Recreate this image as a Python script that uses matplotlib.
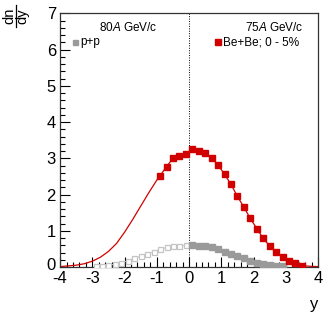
import matplotlib
matplotlib.use("Agg")
import matplotlib.pyplot as plt
from matplotlib.ticker import MultipleLocator
from matplotlib.lines import Line2D
import matplotlib.transforms as mtransforms

plt.rcParams['font.family'] = ['Liberation Sans', 'DejaVu Sans']
plt.rcParams['mathtext.fontset'] = 'custom'
plt.rcParams['mathtext.rm'] = 'Liberation Sans'
plt.rcParams['mathtext.it'] = 'Liberation Sans:italic'

# Be+Be 0-5% data (rapidity, dn/dy)
bebe_y = [-0.9, -0.7, -0.5, -0.3, -0.1, 0.1, 0.3, 0.5, 0.7, 0.9, 1.1, 1.3, 1.5,
          1.7, 1.9, 2.1, 2.3, 2.5, 2.7, 2.9, 3.1, 3.3, 3.5]
bebe_v = [2.52, 2.77, 3.00, 3.07, 3.12, 3.26, 3.19, 3.14, 3.01, 2.81, 2.56, 2.28, 1.95,
          1.65, 1.34, 1.06, 0.79, 0.58, 0.41, 0.28, 0.17, 0.11, 0.04]

# Fit curve (left extension + through the points + tail)
curve_y = [-4.0, -3.75, -3.5, -3.25, -3.0, -2.75, -2.5, -2.25, -2.0, -1.75, -1.5,
           -1.25, -1.0] + bebe_y + [3.75, 4.0]
curve_v = [0.01, 0.03, 0.05, 0.09, 0.16, 0.27, 0.43, 0.65, 0.96, 1.31, 1.68,
           2.05, 2.40] + bebe_v + [0.02, 0.01]

# p+p data (forward, measured) ; reflected points are mirrored
pp_y = [0.1, 0.3, 0.5, 0.7, 0.9, 1.1, 1.3, 1.5, 1.7, 1.9, 2.1, 2.3, 2.5, 2.7, 2.9]
pp_v = [0.60, 0.58, 0.57, 0.54, 0.49, 0.42, 0.36, 0.30, 0.24, 0.17, 0.12, 0.08, 0.05, 0.03, 0.015]

red = '#d10000'
gray = '#9a9a9a'
lightgray = '#c4c4c4'

fig = plt.figure(figsize=(3.32, 3.19), dpi=100)
ax = fig.add_axes([0.181, 0.163, 0.777, 0.795])

ax.axvline(0, color='black', linestyle=(0, (1, 1.5)), linewidth=0.7, zorder=1)

ax.plot(curve_y, curve_v, color=red, linewidth=0.9, zorder=2)

ax.plot([-v for v in pp_y], pp_v, linestyle='-', color=lightgray, linewidth=0.7,
        marker='s', markersize=3.6, markerfacecolor='white', markeredgecolor=lightgray,
        markeredgewidth=0.9, zorder=3)
ax.plot(pp_y, pp_v, linestyle='none', marker='s', markersize=3.7, color=gray, zorder=3)
ax.plot(bebe_y, bebe_v, linestyle='none', marker='s', markersize=4.4, color=red, zorder=4)

ax.set_xlim(-4, 4)
ax.set_ylim(0, 7)
ax.xaxis.set_major_locator(MultipleLocator(1))
ax.xaxis.set_minor_locator(MultipleLocator(0.2))
ax.yaxis.set_major_locator(MultipleLocator(1))
ax.yaxis.set_minor_locator(MultipleLocator(0.2))
ax.tick_params(which='both', direction='in', top=False, right=False, labelsize=12,
               width=0.8, colors='black')
ax.tick_params(which='major', length=7)
ax.tick_params(which='minor', length=3.5)
ax.tick_params(axis='x', pad=3)
ax.tick_params(axis='y', pad=3)
ax.xaxis.set_major_formatter(plt.FuncFormatter(lambda v, p: '%d' % round(v)))
ax.yaxis.set_major_formatter(plt.FuncFormatter(lambda v, p: '%d' % round(v)))
for s in ax.spines.values():
    s.set_linewidth(0.9)
    s.set_color('#333333')

# lift the y "0" label slightly so it sits clear of the "-4" x label
fig.canvas.draw()
for lab in ax.get_yticklabels():
    if lab.get_text() == '0':
        lab.set_transform(lab.get_transform() +
                          mtransforms.ScaledTranslation(0, 2 / 72, fig.dpi_scale_trans))

ax.text(-1.9, 6.62, r'80$\mathit{A}$ GeV/c', ha='center', va='center', fontsize=8.5)
ax.text(2.65, 6.62, r'75$\mathit{A}$ GeV/c', ha='center', va='center', fontsize=8.5)

ax.plot([-3.55], [6.2], marker='s', markersize=3.6, color=gray, linestyle='none',
        clip_on=False)
ax.text(-3.38, 6.2, 'p+p', ha='left', va='center', fontsize=8.5)
ax.plot([0.9], [6.2], marker='s', markersize=3.8, color=red, linestyle='none',
        clip_on=False)
ax.text(1.05, 6.2, 'Be+Be; 0 - 5%', ha='left', va='center', fontsize=8.5)

# y-axis title: dn/dy as a rotated fraction
fig.text(0.028, 0.95, 'dn', rotation=90, ha='center', va='center', fontsize=10.5)
fig.text(0.066, 0.95, 'dy', rotation=90, ha='center', va='center', fontsize=10.5)
fig.add_artist(Line2D([0.047, 0.047], [0.915, 0.985], transform=fig.transFigure,
                      color='black', linewidth=0.9))
fig.text(0.945, 0.045, 'y', ha='center', va='center', fontsize=12)

fig.savefig('out.png', dpi=100)
